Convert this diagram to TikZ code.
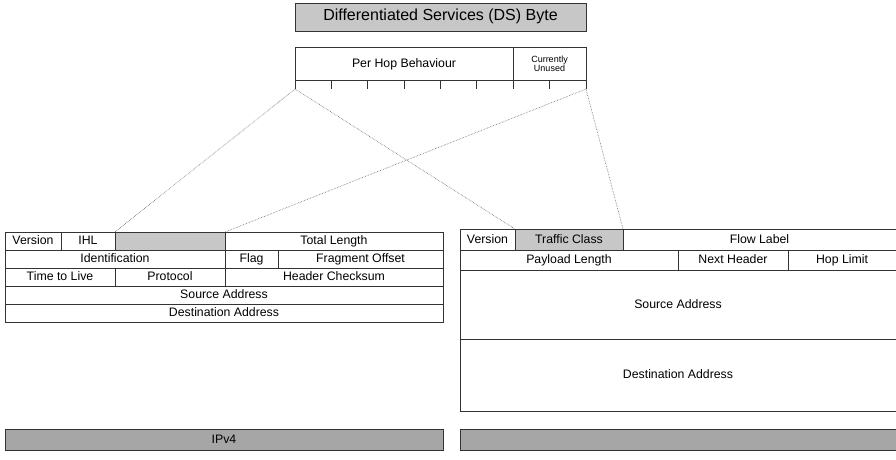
\documentclass[tikz,border=0pt]{standalone}
\usepackage{fontspec}
\setmainfont{Liberation Sans}
\begin{document}
\begin{tikzpicture}[x=1pt,y=-1pt,
  ln/.style={draw=black!80,line width=0.8pt},
  cell/.style={ln,rectangle,inner sep=0pt,outer sep=0pt,anchor=north west,text height=0.72em,text depth=0pt,font=\fontsize{12.3}{13}\selectfont},
  shade/.style={fill=black!22},
  bar/.style={ln,fill=black!35,rectangle,inner sep=0pt,outer sep=0pt,anchor=north west},
  conn/.style={draw=black!60,line width=0.6pt,densely dotted}]
\useasboundingbox (0,0) rectangle (896,459);
% DS byte title
\node[cell,shade,minimum width=291pt,minimum height=28pt,font=\fontsize{16}{16}\selectfont] (title) at (295,3) {Differentiated Services (DS) Byte};
% PHB box
\node[cell,minimum width=218pt,minimum height=33pt] (phb) at (295,47) {Per Hop Behaviour};
\node[ln,rectangle,inner sep=0pt,outer sep=0pt,anchor=north west,minimum width=73pt,minimum height=33pt,font=\fontsize{9}{9}\selectfont,align=center] (unused) at (513,47) {Currently\\Unused};
\foreach \k in {0,...,8}{
  \draw[ln] (295+\k*36.375,80) -- (295+\k*36.375,89);
}
\coordinate (bl) at (295,89);
\coordinate (br) at (586,89);
% IPv4 header
\node[cell,minimum width=56pt,minimum height=18pt] (v4ver) at (5,232) {Version};
\node[cell,minimum width=54pt,minimum height=18pt] (v4ihl) at (61,232) {IHL};
\node[cell,shade,minimum width=110pt,minimum height=18pt] (v4tos) at (115,232) {};
\node[cell,minimum width=218pt,minimum height=18pt] (v4tot) at (225,232) {Total Length};
\node[cell,minimum width=220pt,minimum height=18pt] (v4id) at (5,250) {Identification};
\node[cell,minimum width=53pt,minimum height=18pt] (v4flag) at (225,250) {Flag};
\node[cell,minimum width=165pt,minimum height=18pt] (v4frag) at (278,250) {Fragment Offset};
\node[cell,minimum width=110pt,minimum height=18pt] (v4ttl) at (5,268) {Time to Live};
\node[cell,minimum width=110pt,minimum height=18pt] (v4prot) at (115,268) {Protocol};
\node[cell,minimum width=218pt,minimum height=18pt] (v4chk) at (225,268) {Header Checksum};
\node[cell,minimum width=438pt,minimum height=18pt] (v4src) at (5,286) {Source Address};
\node[cell,minimum width=438pt,minimum height=18pt] (v4dst) at (5,304) {Destination Address};
% IPv6 header
\node[cell,minimum width=55pt,minimum height=21pt] (v6ver) at (460,229) {Version};
\node[cell,shade,minimum width=108pt,minimum height=21pt] (v6tc) at (515,229) {Traffic Class};
\node[cell,minimum width=273pt,minimum height=21pt] (v6flow) at (623,229) {Flow Label};
\node[cell,minimum width=218pt,minimum height=20pt] (v6pay) at (460,250) {Payload Length};
\node[cell,minimum width=110pt,minimum height=20pt] (v6next) at (678,250) {Next Header};
\node[cell,minimum width=108pt,minimum height=20pt] (v6hop) at (788,250) {Hop Limit};
\node[cell,minimum width=436pt,minimum height=69pt] (v6src) at (460,270) {Source Address};
\node[cell,minimum width=436pt,minimum height=72pt] (v6dst) at (460,339) {Destination Address};
% bottom bars
\node[bar,minimum width=438pt,minimum height=21pt,text height=0.72em,text depth=0pt,font=\fontsize{12.3}{13}\selectfont] (ipv4) at (5,429) {IPv4};
\node[bar,minimum width=436pt,minimum height=21pt] (ipv6) at (460,429) {};
% dotted connectors
\draw[conn] (bl) -- (v4tos.north west);
\draw[conn] (br) -- (v4tos.north east);
\draw[conn] (bl) -- (v6tc.north west);
\draw[conn] (br) -- (v6tc.north east);
\end{tikzpicture}
\end{document}
